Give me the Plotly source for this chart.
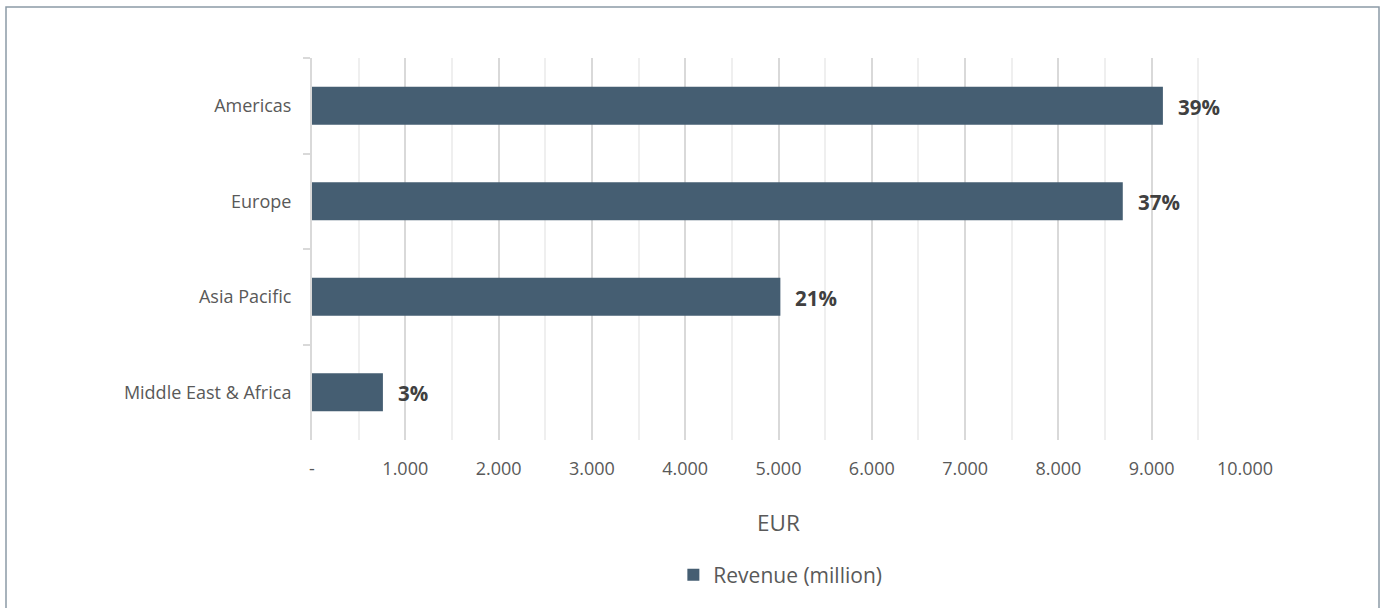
import plotly.graph_objects as go

regions = ["Americas", "Europe", "Asia Pacific", "Middle East & Africa"]
revenue = [9120, 8690, 5020, 760]
shares = ["39%", "37%", "21%", "3%"]
tick_vals = [0, 1000, 2000, 3000, 4000, 5000, 6000, 7000, 8000, 9000, 10000]
tick_text = ["-", "1.000", "2.000", "3.000", "4.000", "5.000", "6.000", "7.000", "8.000", "9.000", "10.000"]

BAR = "#455e72"
TXT = "#595959"
FONT = "Open Sans"

fig = go.Figure()
fig.add_trace(go.Bar(
    y=regions, x=revenue, orientation="h", name="Revenue (million)",
    marker=dict(color=BAR, line=dict(width=0)), width=0.4,
    hoverinfo="x+y",
))

for r, v, s in zip(regions, revenue, shares):
    fig.add_annotation(x=v, y=r, text="<b>" + s + "</b>", showarrow=False,
                       xanchor="left", xshift=13, yshift=-1,
                       font=dict(family=FONT, size=20.5, color="#404040"))

fig.update_layout(
    width=1385, height=608,
    paper_bgcolor="white", plot_bgcolor="white",
    margin=dict(l=312, r=140, t=58, b=168, autoexpand=False),
    font=dict(family=FONT, color=TXT, size=17),
    bargap=0.6,
    showlegend=True,
    legend=dict(orientation="h", x=0.502, xanchor="center", y=-0.30, yanchor="top",
                font=dict(family=FONT, size=21, color=TXT), itemwidth=30),
    xaxis=dict(
        range=[0, 10000], tickvals=tick_vals, ticktext=tick_text,
        showgrid=True, gridcolor="#d9d9d9", gridwidth=2,
        minor=dict(dtick=500, showgrid=True, gridcolor="#efefef", gridwidth=1.5, tick0=0),
        zeroline=False, showline=False,
        tickfont=dict(family=FONT, size=18, color=TXT),
        ticks="", ticklabelstandoff=16,
        title=dict(text="EUR", font=dict(family=FONT, size=22.5, color=TXT), standoff=36),
        automargin=False,
        fixedrange=True,
    ),
    yaxis=dict(
        autorange="reversed", type="category",
        showline=True, linecolor="#d9d9d9", linewidth=2,
        ticks="outside", ticklen=7, tickcolor="#d9d9d9", tickwidth=2,
        tickson="boundaries",
        tickfont=dict(family=FONT, size=18, color=TXT),
        ticklabelstandoff=15,
        showgrid=False,
        automargin=False,
        fixedrange=True,
    ),
)

fig.add_shape(type="rect", xref="paper", yref="paper",
              x0=(6 - 312) / 933, x1=(1379 - 312) / 933,
              y0=-(620 - 440) / 382, y1=1 + (58 - 7) / 382,
              line=dict(color="#8c9ba6", width=1.5), fillcolor="rgba(0,0,0,0)", layer="below")

fig.write_html("out.html")
